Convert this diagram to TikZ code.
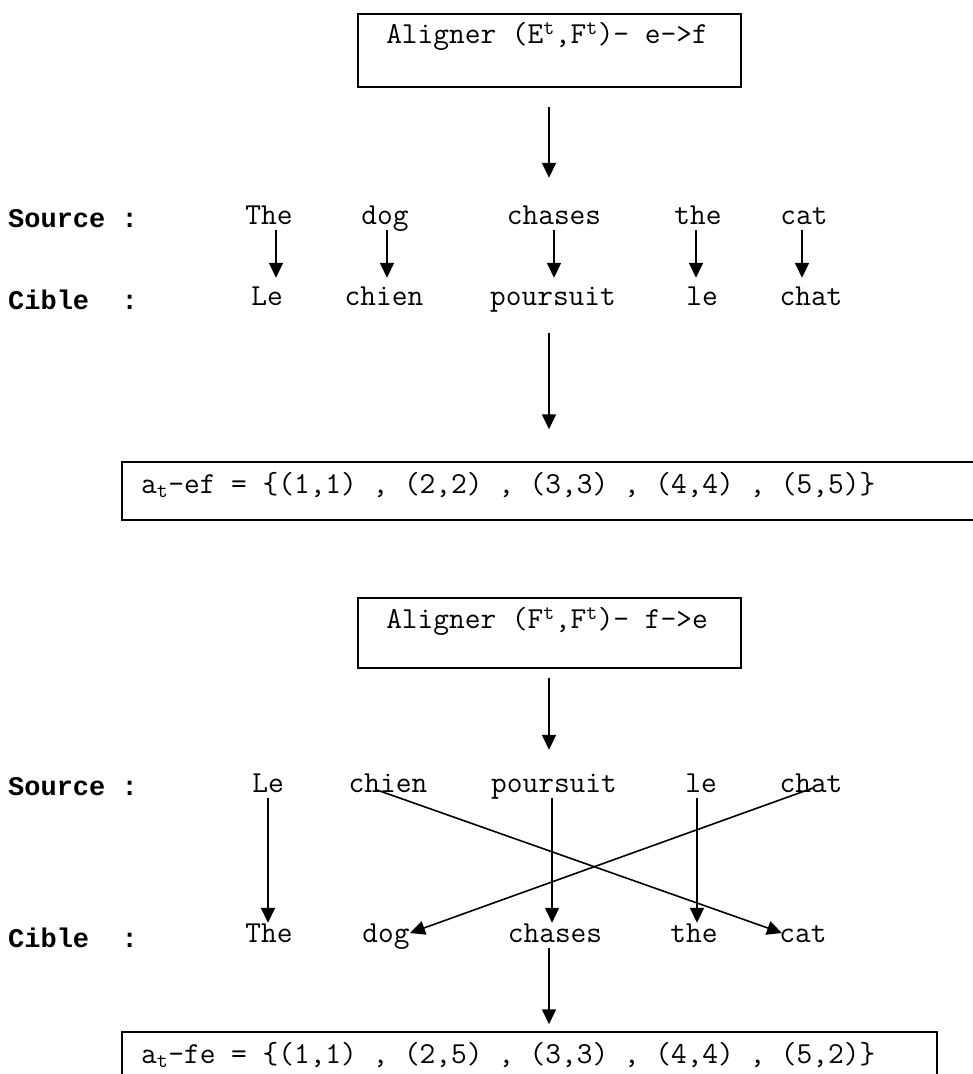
\documentclass[tikz,border=0pt]{standalone}
\usepackage{fontspec}
\newfontfamily\labfont{Liberation Mono}
\usetikzlibrary{arrows.meta}
\begin{document}
\begin{tikzpicture}[x=1pt,y=-1pt,
  word/.style={font=\ttfamily\fontsize{30.5}{36}\selectfont, inner sep=2pt, text height=14pt, text depth=4pt},
  lab/.style={font=\labfont\bfseries\fontsize{27}{32}\selectfont, anchor=west, inner sep=0pt},
  boxtext/.style={font=\ttfamily\fontsize{30.5}{36}\selectfont, inner sep=0pt},
  frame/.style={draw, line width=1.5pt, inner sep=0pt},
  arr/.style={line width=1.6pt, -{Triangle[length=15pt,width=14pt]}},
]
\useasboundingbox (0,0) rectangle (973,1074);

% ---------- first part ----------
\node[frame, minimum width=383pt, minimum height=73pt] (box1) at (549.5,50.5) {};
\node[boxtext] (box1t) at (547,36) {Aligner (E\textsuperscript{t},F\textsuperscript{t})- e->f};
\coordinate (axis) at (549,0);

\node[lab] (src1) at (8,219) {Source :};
\node[lab] (cib1) at (8,300) {Cible\ \ :};

\node[word] (s1) at (269,219) {The};
\node[word] (s2) at (385,219) {dog};
\node[word] (s3) at (554,219) {chases};
\node[word] (s4) at (698,219) {the};
\node[word] (s5) at (804,219) {cat};

\node[word] (t1) at (267,300) {Le};
\node[word] (t2) at (384,300) {chien};
\node[word] (t3) at (553,300) {poursuit};
\node[word] (t4) at (702,300) {le};
\node[word] (t5) at (811,300) {chat};

\draw[arr, shorten <=19pt, shorten >=30pt] (box1.south -| axis) -- (s3.north -| axis);

\draw[arr, shorten >=11pt] ([xshift=7pt]s1.south) -- ([xshift=7pt]s1.south |- t1.north);
\draw[arr, shorten >=11pt] ([xshift=2pt]s2.south) -- ([xshift=2pt]s2.south |- t2.north);
\draw[arr, shorten >=11pt] (s3.south) -- (s3.south |- t3.north);
\draw[arr, shorten >=11pt] ([xshift=-2pt]s4.south) -- ([xshift=-2pt]s4.south |- t4.north);
\draw[arr, shorten >=11pt] ([xshift=-2pt]s5.south) -- ([xshift=-2pt]s5.south |- t5.north);

\node[frame, minimum width=868pt, minimum height=58pt] (box2) at (556,491) {};
\node[boxtext, anchor=west] (box2t) at (141,485) {a\textsubscript{t}-ef = \{(1,1) , (2,2) , (3,3) , (4,4) , (5,5)\}};

\draw[arr, shorten <=22pt, shorten >=32pt] (t3.south -| axis) -- (box2.north -| axis);

% ---------- second part ----------
\node[frame, minimum width=383pt, minimum height=70pt] (box3) at (549.5,633) {};
\node[boxtext] (box3t) at (547,621) {Aligner (F\textsuperscript{t},F\textsuperscript{t})- f->e};

\node[lab] (src2) at (8,787) {Source :};
\node[lab] (cib2) at (8,938) {Cible\ \ :};

\node[word] (u1) at (268,787) {Le};
\node[word] (u2) at (388,787) {chien};
\node[word] (u3) at (554,787) {poursuit};
\node[word] (u4) at (701,787) {le};
\node[word] (u5) at (811,787) {chat};

\node[word] (v1) at (269,937) {The};
\node[word] (v2) at (386,937) {dog};
\node[word] (v3) at (555,937) {chases};
\node[word] (v4) at (694,937) {the};
\node[word] (v5) at (803,937) {cat};

\draw[arr, shorten <=9pt, shorten >=26pt] (box3.south -| axis) -- (u3.north -| axis);

\draw[arr, shorten >=3pt] (u1.south) -- (u1.south |- v1.north);
\draw[arr, shorten >=3pt] ([xshift=-2pt]u3.south) -- ([xshift=-2pt]u3.south |- v3.north);
\draw[arr, shorten >=3pt] ([xshift=-4pt]u4.south) -- ([xshift=-4pt]u4.south |- v4.north);
\draw[arr] ([xshift=-11pt,yshift=-3pt]u2.center) -- ([xshift=-21pt,yshift=4pt]v5.center);
\draw[arr] ([xshift=2pt,yshift=-1pt]u5.center) -- ([xshift=24pt,yshift=4pt]v2.center);

\node[frame, minimum width=815pt, minimum height=58pt] (box4) at (529.5,1061) {};
\node[boxtext, anchor=west] (box4t) at (141,1055) {a\textsubscript{t}-fe = \{(1,1) , (2,5) , (3,3) , (4,4) , (5,2)\}};

\draw[arr, shorten >=7pt] (v3.south -| axis) -- (box4.north -| axis);
\end{tikzpicture}
\end{document}
